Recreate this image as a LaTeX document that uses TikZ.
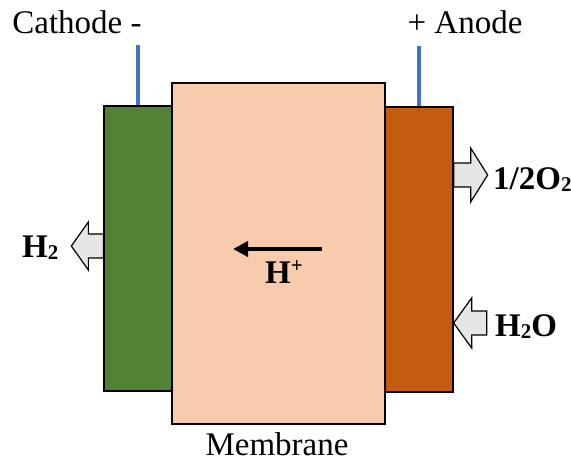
\documentclass[tikz,border=0pt]{standalone}
\usepackage{fontspec}
\setmainfont{Liberation Serif}
\usepackage{tikz}
\usetikzlibrary{arrows.meta}
\usepackage{xcolor}
\definecolor{cathodegreen}{HTML}{548235}
\definecolor{anodeorange}{HTML}{C55A11}
\definecolor{membranepeach}{HTML}{F8CBAD}
\definecolor{wireblue}{HTML}{4472C4}
\definecolor{gasgray}{HTML}{E7E6E6}
\newcommand{\gassub}[1]{\raisebox{-2pt}{\fontsize{21}{21}\selectfont #1}}
\newcommand{\gassup}[1]{\raisebox{11pt}{\fontsize{21}{21}\selectfont #1}}

\begin{document}
\begin{tikzpicture}[x=1pt, y=-1pt,
  plate/.style={draw, line width=1.3pt, inner sep=0pt, minimum width=68pt, minimum height=285pt},
  wire/.style={wireblue, line width=3.6pt},
  txt/.style={font=\fontsize{33}{40}\selectfont, inner sep=0pt},
  gas/.style={txt, font=\fontsize{33}{40}\selectfont\bfseries},
  blockarrow/.style={draw, fill=gasgray, line width=1.2pt, line join=miter},
  ion/.style={-{Triangle[length=15pt,width=15pt]}, line width=4pt},
]
  \useasboundingbox (0,0) rectangle (571,461);

  % electrode leads
  \coordinate (cathodelead) at (138,45);
  \coordinate (anodelead)   at (419,46);

  \node[plate, fill=cathodegreen] (cathode) at (138,248.5) {};
  \node[plate, fill=anodeorange]  (anode)   at (419,249.5) {};
  \node[draw, fill=membranepeach, line width=1.3pt, inner sep=0pt,
        minimum width=213pt, minimum height=341pt] (membrane) at (278.5,253.5) {};

  \draw[wire] (cathodelead) -- (cathode.north);
  \draw[wire] (anodelead) -- (anode.north);

  \node[txt, anchor=base] (cathodetxt)  at (77,33)   {Cathode -};
  \node[txt, anchor=base] (anodetxt)    at (465,33)  {+ Anode};
  \node[txt, anchor=base] (membranetxt) at (277,455) {Membrane};

  \node[gas, anchor=base west] (h2txt)  at (22,257)  {H\gassub{2}};
  \node[gas, anchor=base west] (o2txt)  at (493,189) {1/2O\gassub{2}};
  \node[gas, anchor=base west] (h2otxt) at (495,336) {H\gassub{2}O};
  \node[gas, anchor=base west] (iontxt) at (265,283) {H\gassup{+}};

  % proton flow through the membrane
  \coordinate (ionstart) at (322,249);
  \coordinate (ionend)   at (233,249);
  \draw[ion] (ionstart) -- (ionend);

  % gas outlets and water inlet
  \draw[blockarrow] (cathode.west |- 0,234) -- ++(-15,0) -- ++(0,-12) -- ++(-17,24)
    -- ++(17,24) -- ++(0,-12) -- ++(15,0) -- cycle;
  \draw[blockarrow] (anode.east |- 0,163) -- ++(17,0) -- ++(0,-15) -- ++(17,27)
    -- ++(-17,27) -- ++(0,-15) -- ++(-17,0) -- cycle;
  \draw[blockarrow] (anode.east |- 0,323) -- ++(18,-25) -- ++(0,13) -- ++(15,0)
    -- ++(0,24) -- ++(-15,0) -- ++(0,13) -- cycle;
\end{tikzpicture}
\end{document}
